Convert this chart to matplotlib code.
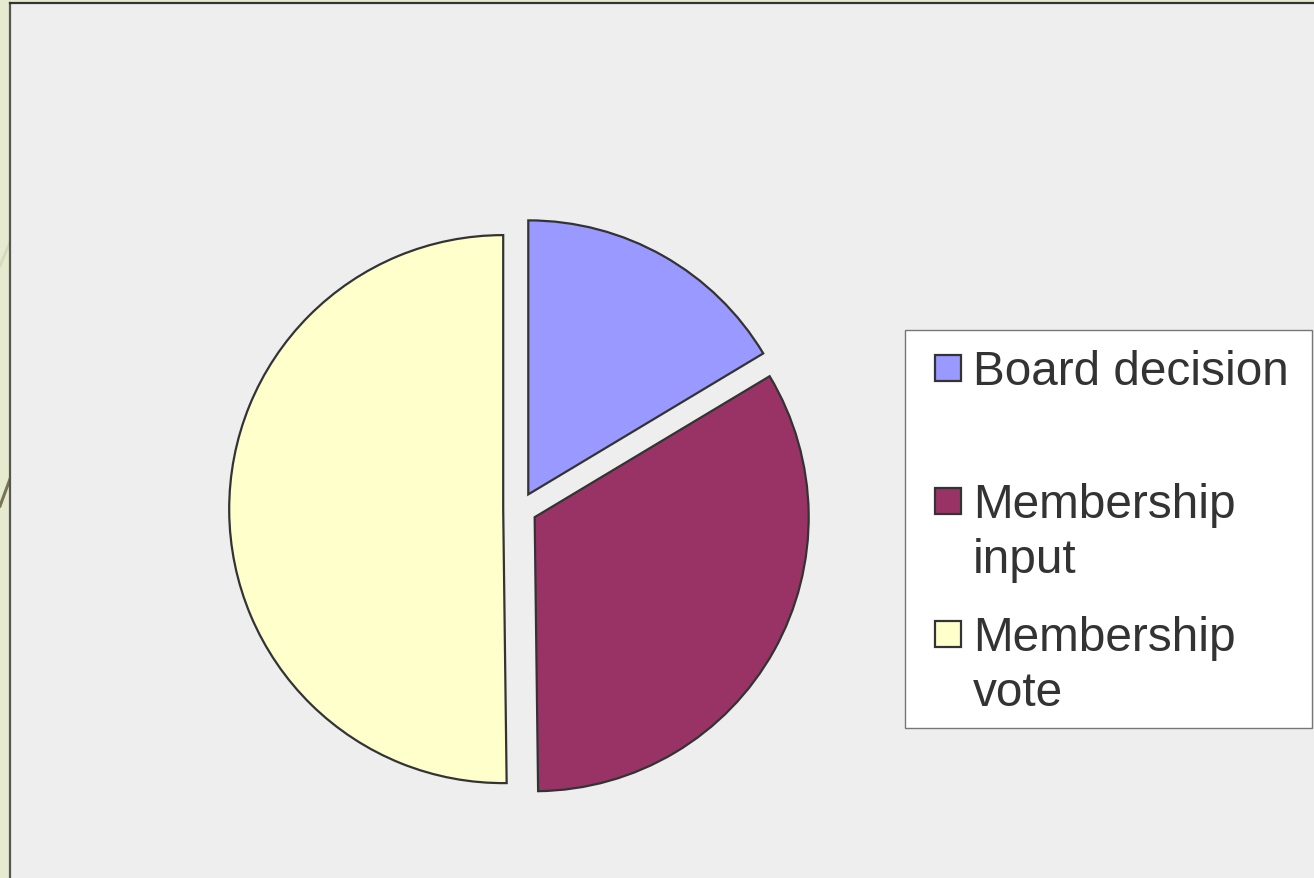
import matplotlib
matplotlib.use("Agg")
import matplotlib.pyplot as plt
from matplotlib.patches import Rectangle
from matplotlib.lines import Line2D

# Data
categories = ["Board decision", "Membership\ninput", "Membership\nvote"]
values = [16.4, 33.4, 50.2]
colors = ["#9999FF", "#993366", "#FFFFCC"]

W, H = 1314, 879
fig = plt.figure(figsize=(W / 100, H / 100), dpi=100)
fig.patch.set_facecolor("#E6EBD0")
ax = fig.add_axes([0, 0, 1, 1])
ax.set_axis_off()

def py(y):
    return H - y

# decorative strip lines on the left
ax.add_line(Line2D([0, 10], [py(267), py(243)], color="#D6DABD", lw=2.0, zorder=0))
ax.add_line(Line2D([0, 10], [py(507), py(480)], color="#7A7456", lw=2.2, zorder=0))

# plot area background
ax.add_patch(Rectangle((10, 0), W - 10, py(4), facecolor="#EEEEEE", edgecolor="none", zorder=0.5))
ax.add_line(Line2D([10, 10], [0, py(4)], color="#555555", lw=1.6, zorder=1))
ax.add_line(Line2D([10, W], [py(4), py(4)], color="#333333", lw=1.6, zorder=1))

# pie
radius = 274
wedges, _ = ax.pie(values, colors=colors, startangle=90, counterclock=False,
                   radius=radius, center=(520, py(510)), explode=[16.8] * 3,
                   wedgeprops=dict(edgecolor="#333333", linewidth=1.6), frame=True)
for w in wedges:
    w.set_zorder(2)
ax.set_xlim(0, W)
ax.set_ylim(0, H)
ax.set_aspect("equal")
ax.set_axis_off()

# legend
ax.add_patch(Rectangle((905, py(729)), 1312 - 905, 729 - 331, facecolor="white",
                       edgecolor="#777777", lw=1.0, zorder=3))
pitch = 133
line_gap = 55
first_base = 385
for i, (lab, col) in enumerate(zip(categories, colors)):
    base = first_base + i * pitch
    cap_center = base - 16.5
    ax.add_patch(Rectangle((935, py(cap_center + 13)), 26, 26, facecolor=col,
                           edgecolor="#333333", lw=1.6, zorder=4))
    for j, line in enumerate(lab.split("\n")):
        ax.text(973, py(base + j * line_gap), line, fontsize=34.4,
                family="Liberation Sans", color="#333333", va="baseline",
                ha="left", zorder=5)

fig.savefig("out.png", dpi=100, facecolor=fig.get_facecolor())
